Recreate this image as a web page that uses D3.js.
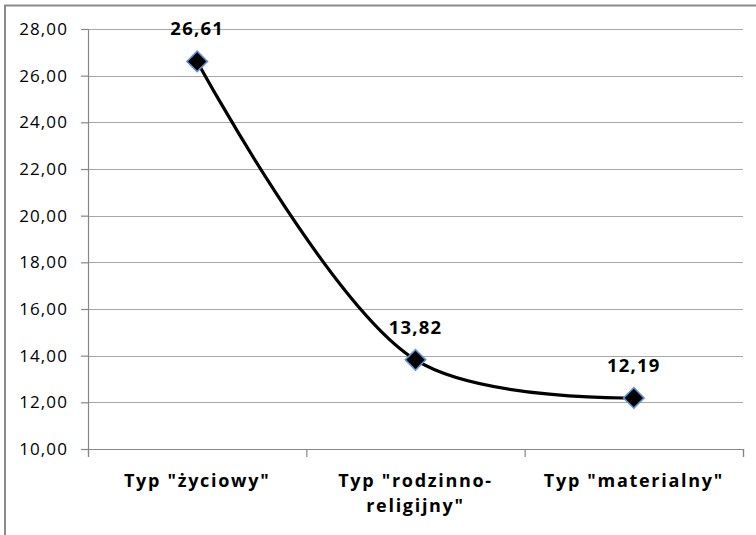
<!DOCTYPE html>
<html>
<head>
<meta charset="utf-8">
<script src="https://cdn.jsdelivr.net/npm/d3@7"></script>
<style>
  body { margin: 0; background: #fff; }
  svg { display: block; }
  text { font-family: "Open Sans", "Noto Sans", sans-serif; fill: #000; }
</style>
</head>
<body>
<svg id="chart" width="756" height="535"></svg>
<script>
// Category names (one entry per line of the axis label)
const categories = ['Typ "życiowy"', 'Typ "rodzinno-religijny"', 'Typ "materialny"'];
const categoryLines = [['Typ "życiowy"'], ['Typ "rodzinno-', 'religijny"'], ['Typ "materialny"']];
// Mean score for each type
const values = [26.61, 13.82, 12.19];
// Value axis ticks
const yTicks = [10, 12, 14, 16, 18, 20, 22, 24, 26, 28];

const svg = d3.select("#chart");
const fmt = v => d3.format(".2f")(v).replace(".", ",");

const plot = { left: 88, right: 743, top: 29, bottom: 449 };

const x = d3.scaleBand().domain(categories).range([plot.left, plot.right]);
const xEdge = d3.scaleLinear().domain([0, categories.length]).range([plot.left, plot.right]);
const y = d3.scaleLinear().domain([10, 28]).range([plot.bottom, plot.top]);
const cx = c => x(c) + x.bandwidth() / 2;

// Outer chart frame
svg.append("rect")
  .attr("x", 5).attr("y", 5.5).attr("width", 900).attr("height", 900)
  .attr("fill", "none").attr("stroke", "#8a8a8a").attr("stroke-width", 2);

// Horizontal gridlines
svg.append("g").selectAll("line")
  .data(yTicks.filter(t => t > 10))
  .join("line")
  .attr("x1", plot.left).attr("x2", plot.right)
  .attr("y1", d => Math.round(y(d)) + 0.5).attr("y2", d => Math.round(y(d)) + 0.5)
  .attr("stroke", "#a8a8a8").attr("stroke-width", 1.2);

// Value axis
const yAxis = svg.append("g")
  .attr("transform", `translate(${plot.left},0)`)
  .call(d3.axisLeft(y).tickValues(yTicks).tickSize(7).tickPadding(13).tickFormat(fmt));
yAxis.select(".domain").attr("stroke", "#868686").attr("stroke-width", 1.2);
yAxis.selectAll(".tick line").attr("stroke", "#868686").attr("stroke-width", 1.2);
yAxis.selectAll(".tick text")
  .style("font-family", '"Open Sans", sans-serif')
  .attr("font-size", 17).attr("letter-spacing", 1.1).attr("fill", "#000");

// Category axis with ticks on band edges
const xAxis = svg.append("g")
  .attr("transform", `translate(0,${plot.bottom})`)
  .call(d3.axisBottom(xEdge).tickValues(d3.range(categories.length + 1)).tickSize(8).tickFormat(""));
xAxis.select(".domain").attr("stroke", "#868686").attr("stroke-width", 1.2);
xAxis.selectAll(".tick line").attr("stroke", "#868686").attr("stroke-width", 1.2);

// Category labels
const catLabels = svg.append("g").selectAll("text")
  .data(categories)
  .join("text")
  .attr("x", d => cx(d))
  .attr("y", 487)
  .attr("text-anchor", "middle")
  .attr("font-size", 18)
  .attr("font-weight", "bold")
  .attr("letter-spacing", 1.7);
catLabels.selectAll("tspan")
  .data((d, i) => categoryLines[i].map(t => ({ t, c: d })))
  .join("tspan")
  .attr("x", d => cx(d.c))
  .attr("dy", (d, i) => i === 0 ? 0 : 25)
  .text(d => d.t);

// Smoothed series line
const line = d3.line()
  .x((d, i) => cx(categories[i]))
  .y(d => y(d))
  .curve(d3.curveCatmullRom.alpha(0.5));
svg.append("path")
  .datum(values)
  .attr("d", line)
  .attr("fill", "none")
  .attr("stroke", "#000")
  .attr("stroke-width", 3.2)
  .attr("stroke-linecap", "round");

// Diamond markers
svg.append("g").selectAll("path")
  .data(values)
  .join("path")
  .attr("transform", (d, i) => `translate(${cx(categories[i])},${y(d)}) rotate(45)`)
  .attr("d", d3.symbol(d3.symbolSquare, 14.5 * 14.5)())
  .attr("fill", "#000")
  .attr("stroke", "#5f93d3")
  .attr("stroke-width", 1.6);

// Value labels
svg.append("g").selectAll("text")
  .data(values)
  .join("text")
  .attr("x", (d, i) => cx(categories[i]))
  .attr("y", d => y(d) - 26)
  .attr("text-anchor", "middle")
  .attr("font-size", 18.5)
  .attr("font-weight", "bold")
  .attr("letter-spacing", 1.2)
  .text(d => fmt(d));
</script>
</body>
</html>
